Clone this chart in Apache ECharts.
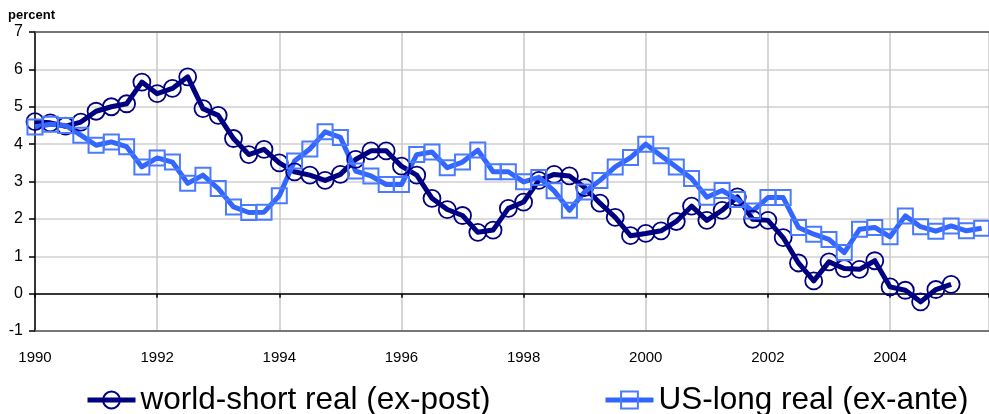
<!DOCTYPE html>
<html>
<head>
<meta charset="utf-8">
<script src="https://cdn.jsdelivr.net/npm/echarts@6/dist/echarts.min.js"></script>
<style>
	html, body { margin: 0; padding: 0; background: #fff; }
	#chart { width: 989px; height: 414px; }
</style>
</head>
<body>
<div id="chart"></div>
<script>
// quarterly observations, 1990Q1 onwards
const quarters = []
for (let i = 0; i < 63; i++) quarters.push(1990 + i / 4)

const yearTicks = [1990, 1992, 1994, 1996, 1998, 2000, 2002, 2004]

const worldShort = [
	4.60, 4.57, 4.48, 4.59, 4.88, 5.00, 5.08, 5.66, 5.35, 5.49, 5.80, 4.95,
	4.77, 4.15, 3.72, 3.86, 3.50, 3.26, 3.17, 3.03, 3.19, 3.59, 3.82, 3.82,
	3.41, 3.17, 2.55, 2.25, 2.09, 1.64, 1.70, 2.28, 2.45, 3.03, 3.19, 3.15,
	2.84, 2.42, 2.04, 1.55, 1.61, 1.68, 1.93, 2.34, 1.96, 2.23, 2.59, 1.99,
	1.96, 1.50, 0.82, 0.34, 0.85, 0.67, 0.65, 0.88, 0.18, 0.09, -0.22, 0.11,
	0.25,
]

const usLong = [
	4.46, 4.53, 4.50, 4.24, 3.97, 4.06, 3.93, 3.39, 3.63, 3.52, 2.95, 3.17,
	2.81, 2.32, 2.17, 2.18, 2.62, 3.55, 3.87, 4.33, 4.18, 3.28, 3.15, 2.92,
	2.92, 3.72, 3.79, 3.37, 3.52, 3.84, 3.26, 3.26, 2.99, 3.11, 2.75, 2.23,
	2.72, 3.03, 3.39, 3.64, 4.00, 3.69, 3.39, 3.08, 2.58, 2.76, 2.52, 2.21,
	2.57, 2.57, 1.77, 1.59, 1.45, 1.10, 1.72, 1.77, 1.52, 2.08, 1.79, 1.67,
	1.81, 1.68, 1.75,
]

const seriesNames = ['world-short real (ex-post)', 'US-long real (ex-ante)']

const FONT = '"Liberation Sans", Arial, sans-serif'

const chart = echarts.init(document.getElementById('chart'), null, { renderer: 'canvas' })

const xBase = {
	type: 'value',
	min: 1990,
	max: 2005.62,
	interval: 2,
}

const legendBase = {
	top: 379,
	itemWidth: 48,
	itemHeight: 21,
	lineStyle: { width: 5 },
	textStyle: { fontSize: 31.5, color: '#000', fontFamily: FONT, padding: [0, 0, 0, 0] },
}

const option = {
	animation: false,
	textStyle: { fontFamily: FONT },
	graphic: [
		{
			type: 'text',
			left: 8,
			top: 9,
			style: { text: 'percent', font: 'bold 13px ' + FONT, fill: '#000' },
		},
	],
	grid: { left: 35, right: -10, top: 32, bottom: 83, containLabel: false },
	legend: [
		Object.assign({}, legendBase, { data: [seriesNames[0]], left: 80 }),
		Object.assign({}, legendBase, { data: [seriesNames[1]], left: 598 }),
	],
	xAxis: [
		Object.assign({}, xBase, {
			position: 'bottom',
			axisLine: { onZero: false, lineStyle: { color: '#555', width: 1.5 } },
			axisTick: { show: false },
			axisLabel: {
				fontSize: 15,
				color: '#000',
				margin: 19,
				showMaxLabel: false,
				formatter: (v) => (yearTicks.indexOf(v) >= 0 ? String(v) : ''),
			},
			splitLine: { show: true, lineStyle: { color: '#c8c8c8', width: 1.5 } },
		}),
		Object.assign({}, xBase, {
			position: 'bottom',
			axisLine: { onZero: true, onZeroAxisIndex: 0, lineStyle: { color: '#000', width: 1.5 } },
			axisTick: { show: true, length: 4, lineStyle: { color: '#000', width: 1.5 } },
			axisLabel: { show: false },
			splitLine: { show: false },
		}),
		Object.assign({}, xBase, {
			position: 'top',
			axisLine: { onZero: false, lineStyle: { color: '#555', width: 1.5 } },
			axisTick: { show: false },
			axisLabel: { show: false },
			splitLine: { show: false },
		}),
	],
	yAxis: {
		type: 'value',
		min: -1,
		max: 7,
		interval: 1,
		axisLine: { show: true, onZero: false, lineStyle: { color: '#000', width: 1.5 } },
		axisTick: { show: true, length: 6, lineStyle: { color: '#000', width: 1.5 } },
		axisLabel: { fontSize: 16, color: '#000', margin: 12 },
		splitLine: { show: true, lineStyle: { color: '#d0d0d0', width: 1.5 } },
	},
	series: [
		{
			name: seriesNames[0],
			type: 'line',
			xAxisIndex: 0,
			data: worldShort.map((v, i) => [quarters[i], v]),
			showAllSymbol: true,
			symbol: 'circle',
			symbolSize: 17,
			lineStyle: { color: '#000080', width: 5, join: 'round' },
			itemStyle: { color: 'rgba(0,0,0,0)', borderColor: '#000080', borderWidth: 1.8 },
			emphasis: { disabled: true },
		},
		{
			name: seriesNames[1],
			type: 'line',
			xAxisIndex: 0,
			data: usLong.map((v, i) => [quarters[i], v]),
			showAllSymbol: true,
			symbol: 'rect',
			symbolSize: 15,
			lineStyle: { color: '#3366ff', width: 5, join: 'round' },
			itemStyle: { color: 'rgba(0,0,0,0)', borderColor: '#4a7bff', borderWidth: 2 },
			emphasis: { disabled: true },
		},
	],
}

chart.setOption(option)
</script>
</body>
</html>
